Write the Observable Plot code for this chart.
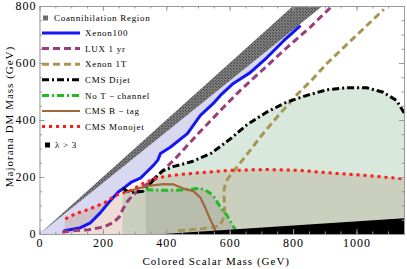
<!DOCTYPE html>
<html><head><meta charset="utf-8">
<script src="https://cdn.jsdelivr.net/npm/d3@7"></script>
<script src="https://cdn.jsdelivr.net/npm/@observablehq/plot@0.6"></script>
<style>body{margin:0;background:#fff} svg{display:block}</style>
</head><body><div id="chart"></div>
<script>
// tick labels
const xTicks = [0, 200, 400, 600, 800, 1000];
const yTicks = [0, 200, 400, 600, 800];
const xMinorTicks = d3.range(0, 1151, 50);
const yMinorTicks = d3.range(0, 801, 50);
const xTitle = "Colored Scalar Mass (GeV)";
const yTitle = "Majorana DM Mass (GeV)";

// region boundaries [mPhi, mDM]
const diagonal = [[0, 0], [800, 800]];
const coannihilation = [[0, 0, 0], [800, 717, 800], [893, 800, 800]]; // [x, lower, upper]
const xenon100Start = [[0, 0], [72, 0]];
const xenon100 = [[74,12],[128,24],[159,41],[190,76],[216,111],[247,149],[269,167],[290,185],[317,198],[339,222],[360,245],[372,262],[380,284],[411,306],[465,354],[506,418],[546,459],[569,488],[610,530],[663,568],[716,621],[769,680],[822,733]];
const lux = [[70,8],[112,14],[154,17],[200,26],[232,42],[250,62],[262,90],[275,115],[295,140],[330,170],[380,215],[430,270],[500,355],[569,435],[631,505],[694,569],[779,656],[852,727],[920,800]];
const xenon1T = [[436,14],[470,16],[510,20],[550,26],[568,32],[578,55],[583,90],[581,125],[580,150],[584,175],[592,195],[621,236],[663,295],[697,345],[750,415],[810,490],[860,545],[905,600],[990,690],[1085,790]];
const dijet = [[262,162],[275,152],[300,148],[325,152],[345,175],[365,200],[385,222],[420,238],[480,256],[540,285],[600,335],[653,385],[716,430],[779,465],[842,488],[905,508],[968,515],[1030,515],[1083,499],[1125,470],[1150,425]];
const noTchannel = [[335,158],[380,155],[421,155],[464,158],[506,162],[530,150],[546,137],[569,96],[590,67],[608,32],[616,17]];
const btag = [[272,148],[310,162],[350,172],[390,177],[420,176],[450,162],[484,152],[506,130],[521,95],[535,58],[548,28],[557,4]];
const monojet = [[80,55],[112,73],[143,84],[175,98],[206,113],[238,137],[263,146],[291,156],[317,175],[350,190],[380,201],[420,208],[464,213],[527,219],[600,225],[716,228],[820,225],[925,215],[1030,207],[1150,195]];
const lambda3 = [[390,0],[1150,55]];

const legendLabels = ["Xenon100","LUX 1 yr","Xenon 1T","CMS Dijet","No T\u2009\u2212\u2009channel","CMS B\u2009\u2212\u2009tag","CMS Monojet"];
const legendColors = ["#1515f5","#993d7c","#a89650","#000000","#22bb22","#a0683a","#ff1a1a"];
const legendDash = [null,"7,4","7,4","7,3,2,3","7,3,2,3",null,"3,4"];
const legendWidth = [3,3,3,3,3,2.2,3];

const X = d => d[0], Y = d => d[1];
const W = 407 - 39.5 - 3, H = 269 - 6 - 35;
const serif = "'Liberation Serif', 'Times New Roman', serif";

const lineOpts = i => ({x: X, y: Y, stroke: legendColors[i], strokeWidth: legendWidth[i], strokeDasharray: legendDash[i] ?? undefined, strokeLinecap: "butt", strokeLinejoin: "round"});

const chart = Plot.plot({
  width: 407, height: 269,
  marginLeft: 39.5, marginRight: 3, marginTop: 6, marginBottom: 35,
  style: {fontFamily: serif, fontSize: "12px", background: "white", color: "black"},
  x: {domain: [0, 1150], label: null},
  y: {domain: [0, 800], label: null},
  marks: [
    Plot.areaY(xenon100Start.concat(xenon100), {x: X, y1: Y, y2: 800, fill: "#d8d8f0"}),
    Plot.areaY(diagonal, {x: X, y1: Y, y2: 800, fill: "white"}),
    Plot.areaY(coannihilation, {x: X, y1: Y, y2: d => d[2], fill: "url(#hatch)"}),
    Plot.areaY(monojet, {x: X, y: Y, fill: "#b87858", fillOpacity: 0.25}),
    Plot.areaY(dijet, {x: X, y: Y, fill: "#7db28a", fillOpacity: 0.3}),
    Plot.areaY(noTchannel, {x: X, y: Y, fill: "#707070", fillOpacity: 0.21}),
    Plot.line(xenon100, lineOpts(0)),
    Plot.line(lux, lineOpts(1)),
    Plot.line(xenon1T, lineOpts(2)),
    Plot.line(dijet, lineOpts(3)),
    Plot.line(noTchannel, lineOpts(4)),
    Plot.line(btag, lineOpts(5)),
    Plot.line(monojet, lineOpts(6)),
    Plot.areaY(lambda3, {x: X, y: Y, fill: "black"}),
    Plot.frame({stroke: "#9a9a9a"}),
    Plot.ruleX(xMinorTicks, {x: d => d, insetTop: H - 2.5, stroke: "#9a9a9a"}),
    Plot.ruleX(xMinorTicks, {x: d => d, insetBottom: H - 2.5, stroke: "#9a9a9a"}),
    Plot.ruleX(xTicks, {x: d => d, insetTop: H - 5, stroke: "#9a9a9a"}),
    Plot.ruleX(xTicks, {x: d => d, insetBottom: H - 5, stroke: "#9a9a9a"}),
    Plot.ruleY(yMinorTicks, {y: d => d, insetRight: W - 2.5, stroke: "#9a9a9a"}),
    Plot.ruleY(yMinorTicks, {y: d => d, insetLeft: W - 2.5, stroke: "#9a9a9a"}),
    Plot.ruleY(yTicks, {y: d => d, insetRight: W - 5, stroke: "#9a9a9a"}),
    Plot.ruleY(yTicks, {y: d => d, insetLeft: W - 5, stroke: "#9a9a9a"}),
    Plot.axisX(xTicks, {tickSize: 0, tickPadding: 4, fontSize: 12, label: null, tickFormat: d3.format("d")}),
    Plot.axisY(yTicks, {tickSize: 0, tickPadding: 3.5, fontSize: 12, label: null, tickFormat: d3.format("d")}),
    Plot.text([xTitle], {frameAnchor: "bottom", dy: 27, dx: -6, fontSize: 11, textAnchor: "middle", lineAnchor: "middle", fill: "black"}),
    Plot.text([yTitle], {frameAnchor: "left", dx: -30.5, dy: -4, rotate: -90, fontSize: 11, textAnchor: "middle", lineAnchor: "middle", fill: "black"})
  ]
});

const svg = d3.select(chart);
const defs = svg.insert("defs", ":first-child");
const pat = defs.append("pattern").attr("id", "hatch").attr("patternUnits", "userSpaceOnUse").attr("width", 3).attr("height", 3);
pat.append("rect").attr("width", 3).attr("height", 3).attr("fill", "#7a7a7a").attr("shape-rendering", "crispEdges");
pat.append("rect").attr("width", 1).attr("height", 1).attr("fill", "#4a4a4a").attr("shape-rendering", "crispEdges");
pat.append("rect").attr("x", 1.5).attr("y", 1.5).attr("width", 1).attr("height", 1).attr("fill", "#4a4a4a").attr("shape-rendering", "crispEdges");

svg.selectAll("text").style("letter-spacing", "1px");

// legend
const lg = svg.append("g").attr("font-family", serif).attr("font-size", 9).attr("text-anchor", "start").style("letter-spacing", "0.7px");
lg.append("rect").attr("x", 43).attr("y", 15.5).attr("width", 5).attr("height", 5).attr("fill", "#6e6e6e");
lg.append("text").attr("x", 54).attr("y", 18).attr("dy", "0.35em").text("Coannihilation Region");
legendLabels.forEach((label, i) => {
  const y = 33 + i * 15.6;
  lg.append("line").attr("x1", 42).attr("x2", 80).attr("y1", y).attr("y2", y)
    .attr("stroke", legendColors[i]).attr("stroke-width", legendWidth[i])
    .attr("stroke-dasharray", legendDash[i]);
  lg.append("text").attr("x", 85).attr("y", y).attr("dy", "0.35em").text(label);
});
lg.append("rect").attr("x", 45).attr("y", 142.5).attr("width", 5).attr("height", 5).attr("fill", "black");
lg.append("text").attr("x", 55).attr("y", 145).attr("dy", "0.35em").text("\u03bb > 3");

document.getElementById("chart").append(chart);
</script>
</body></html>
